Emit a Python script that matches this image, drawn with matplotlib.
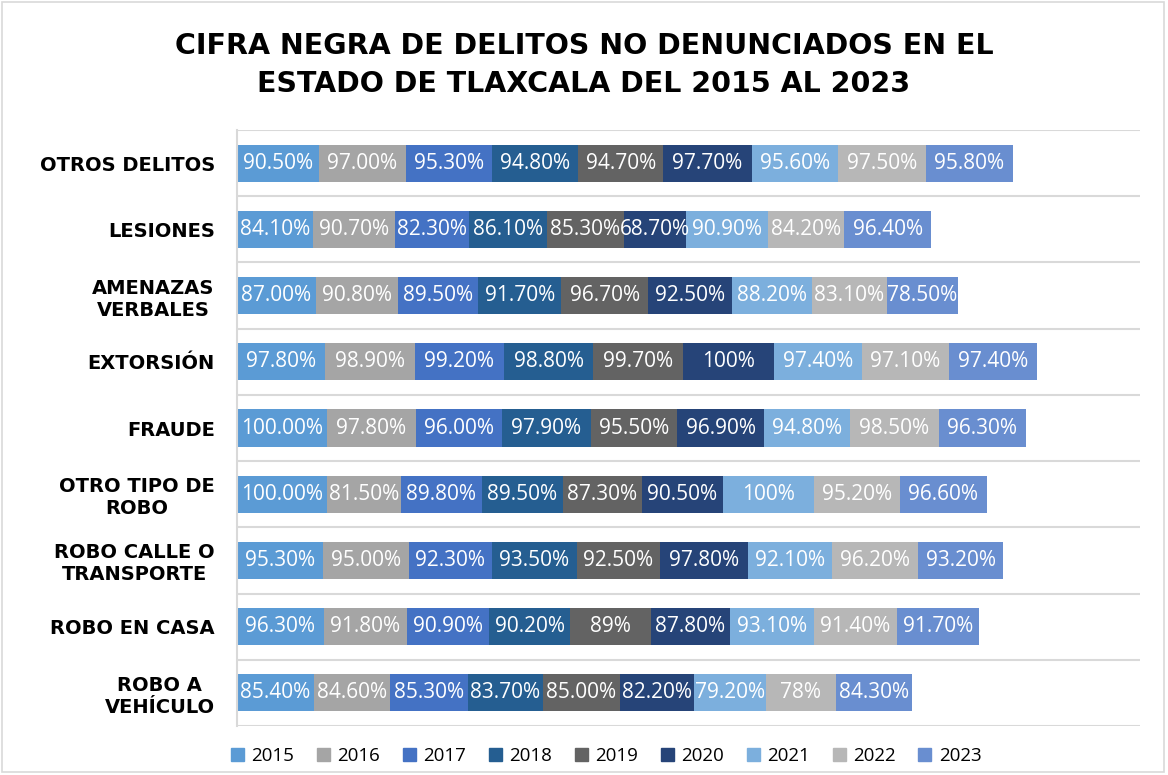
import numpy as np
import matplotlib
matplotlib.use("Agg")
import matplotlib.pyplot as plt
from matplotlib.patches import Rectangle, Patch

# categories, top to bottom as in the chart
categories = ["OTROS DELITOS", "LESIONES", "AMENAZAS\nVERBALES", "EXTORSIÓN",
              "FRAUDE", "OTRO TIPO DE\nROBO", "ROBO CALLE O\nTRANSPORTE",
              "ROBO EN CASA", "ROBO A\nVEHÍCULO"]
years = ["2015", "2016", "2017", "2018", "2019", "2020", "2021", "2022", "2023"]

v2015 = [90.5, 84.1, 87.0, 97.8, 100.0, 100.0, 95.3, 96.3, 85.4]
v2016 = [97.0, 90.7, 90.8, 98.9, 97.8, 81.5, 95.0, 91.8, 84.6]
v2017 = [95.3, 82.3, 89.5, 99.2, 96.0, 89.8, 92.3, 90.9, 85.3]
v2018 = [94.8, 86.1, 91.7, 98.8, 97.9, 89.5, 93.5, 90.2, 83.7]
v2019 = [94.7, 85.3, 96.7, 99.7, 95.5, 87.3, 92.5, 89.0, 85.0]
v2020 = [97.7, 68.7, 92.5, 100.0, 96.9, 90.5, 97.8, 87.8, 82.2]
v2021 = [95.6, 90.9, 88.2, 97.4, 94.8, 100.0, 92.1, 93.1, 79.2]
v2022 = [97.5, 84.2, 83.1, 97.1, 98.5, 95.2, 96.2, 91.4, 78.0]
v2023 = [95.8, 96.4, 78.5, 97.4, 96.3, 96.6, 93.2, 91.7, 84.3]

# a few labels in the source are written without decimals
short_labels = {(3, "2020"): "100%", (5, "2021"): "100%",
                (7, "2019"): "89%", (8, "2022"): "78%"}

series = [v2015, v2016, v2017, v2018, v2019, v2020, v2021, v2022, v2023]
colors = ["#5B9BD5", "#A5A5A5", "#4472C4", "#255E91", "#636363",
          "#264478", "#7CAFDD", "#B7B7B7", "#698ED0"]

fig = plt.figure(figsize=(11.68, 7.75), dpi=100)
ax = fig.add_axes([0.2029, 0.0632, 0.7731, 0.769])

y = np.arange(len(categories))
left = np.zeros(len(categories))
for yr, vals, col in zip(years, series, colors):
    vals = np.array(vals)
    ax.barh(y, vals, left=left, height=0.56, color=col, edgecolor="none", label=yr)
    for i, v in enumerate(vals):
        txt = short_labels.get((i, yr), f"{v:.2f}%")
        ax.text(left[i] + v / 2, y[i], txt, ha="center", va="center",
                color="white", fontsize=15, family=["Open Sans", "DejaVu Sans"])
    left += vals

ax.set_xlim(0, 1000)
ax.set_ylim(len(categories) - 0.5, -0.5)
ax.set_xticks([])
ax.set_yticks(y)
ax.set_yticklabels(categories, fontsize=14, fontweight="bold",
                   family="DejaVu Sans")
for lab in ax.get_yticklabels():
    lab.set_multialignment("center")
ax.tick_params(axis="y", length=0, pad=16)

ax.set_yticks(np.arange(-0.5, len(categories), 1), minor=True)
ax.tick_params(axis="y", which="minor", length=0)
ax.grid(axis="y", which="minor", color="#D9D9D9", linewidth=1.5)
ax.set_axisbelow(True)
for s in ["top", "right", "bottom"]:
    ax.spines[s].set_visible(False)
ax.spines["left"].set_color("#D9D9D9")
ax.spines["left"].set_linewidth(1.5)

fig.text(0.5, 0.940, "CIFRA NEGRA DE DELITOS NO DENUNCIADOS EN EL",
         ha="center", va="center", fontsize=20.5, fontweight="bold",
         family="DejaVu Sans", color="#000000")
fig.text(0.5, 0.891, "ESTADO DE TLAXCALA DEL 2015 AL 2023",
         ha="center", va="center", fontsize=20.5, fontweight="bold",
         family="DejaVu Sans", color="#000000")

handles = [Patch(color=c) for c in colors]
fig.legend(handles, years, loc="center", bbox_to_anchor=(0.519, 0.025),
           ncol=9, frameon=False, handlelength=0.7, handleheight=0.7,
           handletextpad=0.4, columnspacing=1.2,
           prop={"family": ["Open Sans", "DejaVu Sans"], "size": 13.5})

fig.patches.append(Rectangle((0.002, 0.004), 0.995, 0.993, transform=fig.transFigure,
                             fill=False, edgecolor="#D9D9D9", linewidth=1.2))

fig.savefig("out.png", dpi=100)
